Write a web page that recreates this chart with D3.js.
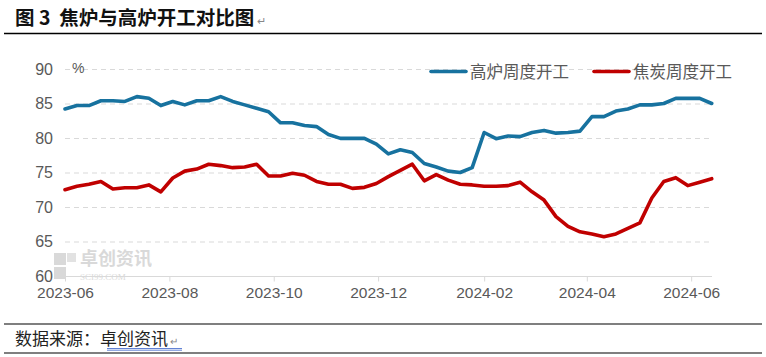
<!DOCTYPE html>
<html><head><meta charset="utf-8">
<script src="https://cdn.jsdelivr.net/npm/d3@7"></script>
<style>
html,body{margin:0;padding:0;background:#fff;}
svg{display:block;}
</style></head>
<body>
<svg id="c" width="766" height="357"></svg>
<script>
// ---- data ----
const startDate = "2023-06-01";
const blastFurnace = [84.2,84.7,84.7,85.4,85.4,85.3,86.0,85.75,84.7,85.3,84.8,85.4,85.4,86.0,85.3,84.8,84.3,83.8,82.2,82.2,81.8,81.65,80.5,79.95,79.95,79.95,79.1,77.7,78.3,77.9,76.3,75.8,75.2,75.0,75.7,80.8,79.9,80.3,80.2,80.8,81.1,80.7,80.8,81.0,83.1,83.1,83.9,84.2,84.8,84.8,85.0,85.75,85.75,85.75,85.0];
const cokeOven = [72.5,73.0,73.3,73.7,72.6,72.8,72.8,73.2,72.2,74.2,75.2,75.5,76.2,76.0,75.7,75.8,76.2,74.5,74.5,74.9,74.6,73.7,73.3,73.3,72.7,72.85,73.4,74.4,75.3,76.2,73.8,74.7,73.9,73.3,73.2,73.0,73.0,73.1,73.6,72.2,71.0,68.6,67.2,66.4,66.1,65.7,66.1,66.9,67.7,71.3,73.7,74.25,73.1,73.6,74.1];
const seriesNames = ["高炉周度开工","焦炭周度开工"];
const yTicks = [60,65,70,75,80,85,90];
const xTickLabels = ["2023-06","2023-08","2023-10","2023-12","2024-02","2024-04","2024-06"];
const title = "图 3  焦炉与高炉开工对比图";
const source = "数据来源：";
const sourceLink = "卓创资讯";

// ---- build ----
const parse = d3.timeParse("%Y-%m-%d");
const t0 = parse(startDate);
const dates = blastFurnace.map((_, i) => d3.timeDay.offset(t0, 7 * i));
const tickDates = xTickLabels.map(s => d3.timeParse("%Y-%m")(s));

const svg = d3.select("#c");
const x = d3.scaleTime().domain([t0, dates[dates.length - 1]]).range([65, 711.7]);
const y = d3.scaleLinear().domain([60, 90]).range([276, 69]);

const cjk = "'Noto Sans CJK SC', sans-serif";
const num = "'Liberation Sans', Arial, sans-serif";

// title
svg.append("text").attr("x", 15).attr("y", 25).attr("font-family", cjk).attr("font-weight", 700)
  .attr("font-size", 19.5).attr("fill", "#111").style("white-space", "pre").text(title)
  .append("tspan").attr("font-size", 11).attr("fill", "#888").attr("font-weight", 400).text(" ↵");
svg.append("line").attr("x1", 4).attr("x2", 762).attr("y1", 33.5).attr("y2", 33.5).attr("stroke", "#000").attr("stroke-width", 1.5);

// footer
svg.append("line").attr("x1", 4).attr("x2", 762).attr("y1", 324).attr("y2", 324).attr("stroke", "#000").attr("stroke-width", 1.2);
svg.append("line").attr("x1", 4).attr("x2", 762).attr("y1", 353).attr("y2", 353).attr("stroke", "#000").attr("stroke-width", 1.2);
const ft = svg.append("text").attr("x", 15).attr("y", 345).attr("font-family", cjk).attr("font-size", 17).attr("fill", "#222");
ft.append("tspan").text(source);
ft.append("tspan").text(sourceLink);
ft.append("tspan").attr("font-size", 10).attr("fill", "#888").text(" ↵");
svg.append("line").attr("x1", 107).attr("x2", 182).attr("y1", 348.5).attr("y2", 348.5).attr("stroke", "#3a62c9").attr("stroke-width", 0.8);
svg.append("line").attr("x1", 107).attr("x2", 182).attr("y1", 350.2).attr("y2", 350.2).attr("stroke", "#3a62c9").attr("stroke-width", 0.8);

// gridlines
svg.append("g").selectAll("line").data(yTicks.filter(v => v > 60)).join("line")
  .attr("x1", 65).attr("x2", 712).attr("y1", d => y(d) + 0.5).attr("y2", d => y(d) + 0.5)
  .attr("stroke", "#d9d9d9").attr("stroke-width", 1).attr("stroke-dasharray", "5,4");

// watermark
const wm = svg.append("g").attr("opacity", 0.55);
wm.append("rect").attr("x", 54).attr("y", 253).attr("width", 12).attr("height", 12).attr("fill", "#bbb");
wm.append("rect").attr("x", 54).attr("y", 267).attr("width", 12).attr("height", 12).attr("fill", "#bbb");
wm.append("rect").attr("x", 67).attr("y", 253).attr("width", 9).attr("height", 9).attr("fill", "#ccc");
wm.append("text").attr("x", 80).attr("y", 265).attr("font-family", cjk).attr("font-weight", 700).attr("font-size", 18).attr("fill", "#bbb").text("卓创资讯");
wm.append("text").attr("x", 80).attr("y", 280).attr("font-family", "'Liberation Serif', serif").attr("font-size", 9).attr("fill", "#bbb").text("SCI99.COM");

// y axis labels
svg.append("g").selectAll("text").data(yTicks).join("text")
  .attr("x", 53).attr("y", d => y(d) + 5.5).attr("text-anchor", "end")
  .attr("font-family", num).attr("font-size", 16).attr("fill", "#595959").text(d => d);
svg.append("text").attr("x", 72).attr("y", 73).attr("font-family", num).attr("font-size", 14).attr("fill", "#595959").text("%");

// x axis
const xAxis = d3.axisBottom(x).tickValues(tickDates).tickSize(5).tickFormat((d, i) => xTickLabels[i]);
const gx = svg.append("g").attr("transform", "translate(0,276.5)").call(xAxis);
gx.select(".domain").attr("d", "M65,0H712").attr("stroke", "#d9d9d9");
gx.selectAll(".tick line").attr("stroke", "#d9d9d9");
gx.selectAll(".tick text").attr("font-family", num).attr("font-size", 15.5).attr("fill", "#595959").attr("dy", "0.85em").attr("y", 8);

// lines
const line = d3.line().x((d, i) => x(dates[i])).y(d => y(d)).curve(d3.curveLinear);
svg.append("path").datum(blastFurnace).attr("d", line).attr("fill", "none").attr("stroke", "#17729f").attr("stroke-width", 3.6).attr("stroke-linejoin", "round").attr("stroke-linecap", "round");
svg.append("path").datum(cokeOven).attr("d", line).attr("fill", "none").attr("stroke", "#c00000").attr("stroke-width", 3.6).attr("stroke-linejoin", "round").attr("stroke-linecap", "round");

// legend
const legend = [{n: seriesNames[0], c: "#17729f", x: 431}, {n: seriesNames[1], c: "#c00000", x: 594}];
const lg = svg.append("g").selectAll("g").data(legend).join("g");
lg.append("line").attr("x1", d => d.x).attr("x2", d => d.x + 35).attr("y1", 71.5).attr("y2", 71.5)
  .attr("stroke", d => d.c).attr("stroke-width", 3.6).attr("stroke-linecap", "round");
lg.append("text").attr("x", d => d.x + 39).attr("y", 78).attr("font-family", cjk).attr("font-size", 16.5).attr("fill", "#595959").text(d => d.n);
</script>
</body></html>
